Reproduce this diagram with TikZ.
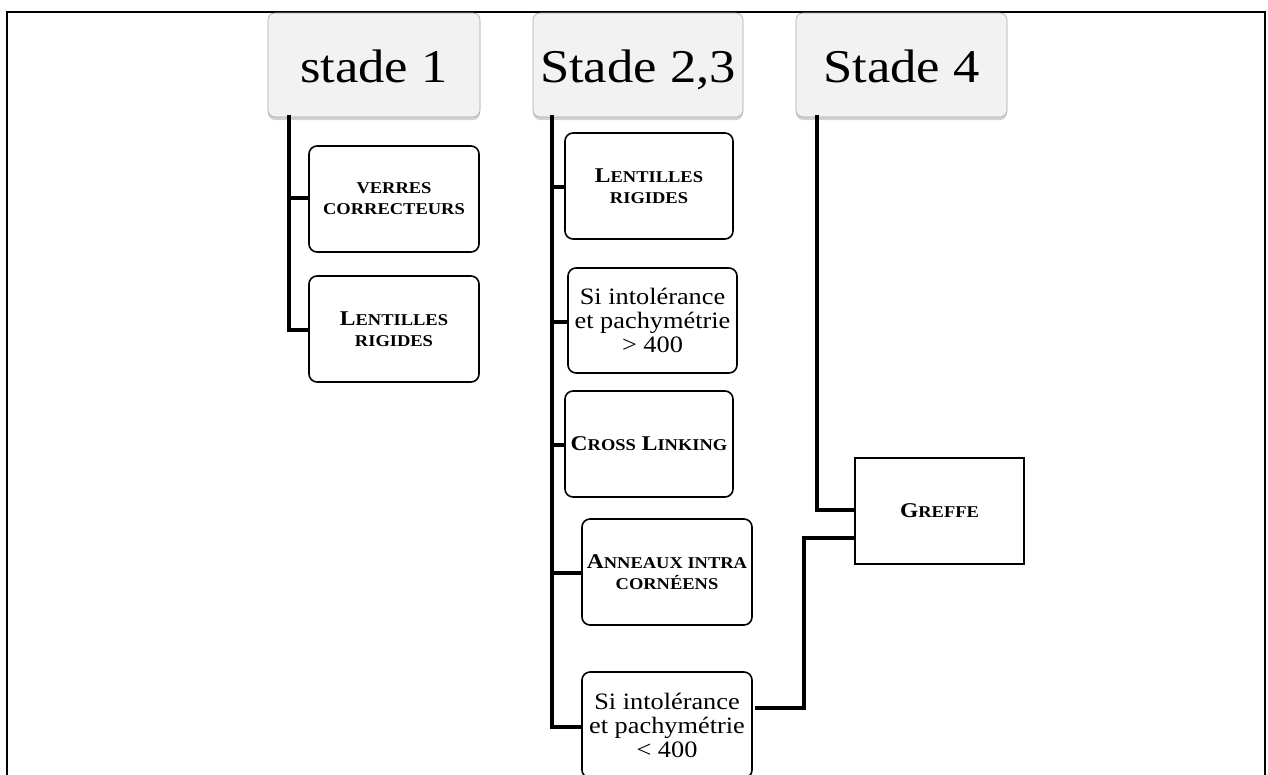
\documentclass[tikz,border=0pt]{standalone}
\usepackage{fontspec}
\setmainfont{Liberation Serif}[FakeStretch=1.12]
\usetikzlibrary{shadows}
\newcommand{\fsc}[2]{#1{\fontsize{16.5}{18}\selectfont #2}}
\newcommand{\regtxt}{\fontsize{23.5}{24}\selectfont}
\tikzset{
  head/.style={draw=gray!70, line width=0.6pt, fill=gray!10, rounded corners=7pt,
    inner sep=0pt, anchor=center, text height=34pt, text depth=0pt,
    drop shadow={shadow xshift=0pt, shadow yshift=-3pt, opacity=0.35, fill=gray},
    font=\fontsize{47}{50}\selectfont},
  item/.style={draw=black, line width=1.6pt, fill=white, rounded corners=8pt,
    inner sep=0pt, anchor=center, minimum width=#1, minimum height=106pt,
    align=center, font=\fontsize{21}{24}\selectfont},
  item/.default=170pt,
  link/.style={line width=3.8pt, line cap=rect},
  frame/.style={line width=2pt}
}
\begin{document}
\begin{tikzpicture}[x=1pt, y=-1pt]
\useasboundingbox (0,0) rectangle (1268,774);
% outer frame
\draw[frame] (7,790) -- (7,12) -- (1265,12) -- (1265,790);

% headers
\node[head, minimum width=212pt, minimum height=104pt] (h1) at (374,65) {stade 1};
\node[head, minimum width=210pt, minimum height=104pt] (h2) at (638,65) {Stade 2,3};
\node[head, minimum width=211pt, minimum height=104pt] (h3) at (901.5,65) {Stade 4};

% stade 1 items
\node[item] (v1) at (394,199) {\bfseries\fsc{}{VERRES}\\[-3pt]\bfseries\fsc{}{CORRECTEURS}};
\node[item] (l1) at (394,329) {\bfseries\fsc{L}{ENTILLES}\\[-3pt]\bfseries\fsc{}{RIGIDES}};

% stade 2,3 items
\node[item=168pt] (l2) at (649,186) {\bfseries\fsc{L}{ENTILLES}\\[-3pt]\bfseries\fsc{}{RIGIDES}};
\node[item=169pt, minimum height=105pt, font=\regtxt] (s1) at (652.5,320.5) {Si intolérance\\et pachymétrie\\> 400};
\node[item=168pt] (c) at (649,444) {\bfseries\fsc{C}{ROSS} \fsc{L}{INKING}};
\node[item] (a) at (667,572) {\bfseries\fsc{A}{NNEAUX INTRA}\\[-3pt]\bfseries\fsc{}{CORNÉENS}};
\node[item, font=\regtxt] (s2) at (667,725) {Si intolérance\\et pachymétrie\\< 400};

% stade 4
\node[draw=black, line width=1.5pt, fill=white, inner sep=0pt, minimum width=169pt,
  minimum height=106pt, font=\fontsize{21}{24}\selectfont] (g) at (939.5,511)
  {\bfseries\fsc{G}{REFFE}};

% connectors
\coordinate (t1) at (289,117);
\coordinate (t2) at (552,117);
\coordinate (t3) at (817,117);
\draw[link] (t1) |- (v1.west|-0,198);
\draw[link] (t1) |- (l1.west|-0,330);
\draw[link] (t2) |- (l2.west|-0,187);
\draw[link] (t2) |- (s1.west|-0,322);
\draw[link] (t2) |- (c.west|-0,445);
\draw[link] (t2) |- (a.west|-0,573);
\draw[link] (t2) |- (s2.west|-0,727);
\draw[link] (t3) |- (g.west|-0,510);
\coordinate (e1) at (757,708);
\coordinate (e2) at (852,538);
\draw[link] (e1) -- (804,708) |- (e2);
\end{tikzpicture}
\end{document}
